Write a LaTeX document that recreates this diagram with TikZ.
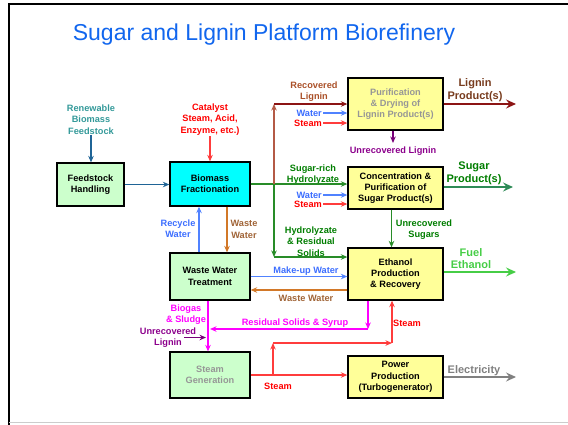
\documentclass[tikz,border=0pt]{standalone}
\usepackage{fontspec}
\setmainfont{Liberation Sans}
\usetikzlibrary{arrows.meta}
\definecolor{titleblue}{RGB}{17,102,238}
\definecolor{tealtxt}{RGB}{51,153,153}
\definecolor{feedline}{RGB}{31,100,150}
\definecolor{redtxt}{RGB}{255,0,0}
\definecolor{redline}{RGB}{255,60,60}
\definecolor{bluetxt}{RGB}{60,110,255}
\definecolor{blueline}{RGB}{80,130,255}
\definecolor{browntxt}{RGB}{160,100,55}
\definecolor{orangeline}{RGB}{210,120,40}
\definecolor{rlignintxt}{RGB}{170,80,40}
\definecolor{rligninline}{RGB}{180,90,70}
\definecolor{lprodtxt}{RGB}{120,60,30}
\definecolor{darkredline}{RGB}{140,20,20}
\definecolor{greentxt}{RGB}{0,125,0}
\definecolor{greenline}{RGB}{40,140,40}
\definecolor{sugarline}{RGB}{46,139,87}
\definecolor{fuelgreen}{RGB}{70,205,70}
\definecolor{purpletxt}{RGB}{140,0,140}
\definecolor{purpleline}{RGB}{120,0,120}
\definecolor{magentac}{RGB}{255,0,255}
\definecolor{greytxt}{RGB}{128,128,128}
\definecolor{nodegrey}{RGB}{150,150,150}
\definecolor{boxgreen}{RGB}{204,255,204}
\definecolor{boxyellow}{RGB}{255,255,153}
\definecolor{boxcyan}{RGB}{0,255,255}
\newcommand\lblfont{\fontsize{9.2}{11.3}\selectfont\bfseries}
\newcommand\bigfont{\fontsize{11}{12.8}\selectfont\bfseries}
\tikzset{
  procbox/.style={draw=black, line width=1.3pt, align=center, font=\lblfont, inner sep=0pt},
  lab/.style={align=center, font=\lblfont, inner sep=1pt},
  biglab/.style={align=center, font=\bigfont, inner sep=1pt},
  arr/.style={line width=1.1pt, -{Stealth[length=6.5pt,width=5.5pt]}},
  plainline/.style={line width=1.1pt},
  outarr/.style={line width=1.1pt, -{Stealth[length=10pt,width=9pt,inset=3.5pt]}}
}
\begin{document}
\begin{tikzpicture}[x=1pt,y=-1pt]
\useasboundingbox (0,0) rectangle (568,424);
% frame
\draw[line width=2.6pt] (9,425) -- (9,4) -- (570,4);
\draw[line width=1.5pt, black!20] (9,422.5) -- (570,422.5);
% title
\node[font=\fontsize{23}{26}\selectfont, text=titleblue] (title) at (264,35) {Sugar and Lignin Platform Biorefinery};

% process boxes
\node[procbox, fill=boxgreen, minimum width=67pt, minimum height=43pt] (feed) at (90.5,184.5) {Feedstock\\Handling};
\node[procbox, fill=boxcyan, minimum width=80pt, minimum height=44pt] (frac) at (210,184) {Biomass\\Fractionation};
\node[procbox, fill=boxyellow, minimum width=95pt, minimum height=52pt, text=nodegrey] (lig) at (395.5,104) {Purification\\\& Drying of\\Lignin Product(s)};
\node[procbox, fill=boxyellow, minimum width=95pt, minimum height=42pt] (conc) at (395.5,188) {Concentration \&\\Purification of\\Sugar Product(s)};
\node[procbox, fill=boxyellow, minimum width=95pt, minimum height=52pt] (eth) at (395.5,274) {Ethanol\\Production\\\& Recovery};
\node[procbox, fill=boxyellow, minimum width=95pt, minimum height=42pt] (power) at (395.5,377) {Power\\Production\\(Turbogenerator)};
\node[procbox, fill=boxgreen, minimum width=80pt, minimum height=47pt] (wwt) at (210,276.5) {Waste Water\\Treatment};
\node[procbox, fill=boxgreen, minimum width=80pt, minimum height=46pt, text=nodegrey] (sg) at (210,375) {Steam\\Generation};

% labels
\node[lab, text=tealtxt] (renew) at (91,119.5) {Renewable\\Biomass\\Feedstock};
\node[lab, text=redtxt] (cat) at (210,119.5) {Catalyst\\Steam, Acid,\\Enzyme, etc.)};
\node[lab, text=bluetxt] (recyc) at (178,229) {Recycle\\Water};
\node[lab, text=browntxt] (wwlab) at (244,229.5) {Waste\\Water};
\node[lab, text=rlignintxt] (reclig) at (314,91.5) {Recovered\\Lignin};
\node[lab, text=bluetxt, anchor=east] (lw) at (323,113) {Water};
\node[lab, text=redtxt, anchor=east] (ls) at (323,123) {Steam};
\node[lab, text=purpletxt] (unlig) at (393,151) {Unrecovered Lignin};
\node[biglab, text=lprodtxt] (lprod) at (475,90.5) {Lignin\\Product(s)};
\node[lab, text=greentxt] (srich) at (313,174.5) {Sugar-rich\\Hydrolyzate};
\node[lab, text=bluetxt, anchor=east] (cw) at (323,195) {Water};
\node[lab, text=redtxt, anchor=east] (cs) at (323,204) {Steam};
\node[biglab, text=greentxt] (sprod) at (474,173.5) {Sugar\\Product(s)};
\node[lab, text=greentxt] (unsug) at (424,229.5) {Unrecovered\\Sugars};
\node[lab, text=greentxt] (hydro) at (311,241.5) {Hydrolyzate\\\& Residual\\Solids};
\node[lab, text=bluetxt] (mkup) at (306,271) {Make-up Water};
\node[lab, text=browntxt] (ww2lab) at (306,298) {Waste Water};
\node[biglab, text=fuelgreen] (fuel) at (471,258.5) {Fuel\\Ethanol};
\node[lab, text=magentac] (biogas) at (186,314.5) {Biogas\\\& Sludge};
\node[lab, text=magentac] (resid) at (295,323) {Residual Solids \& Syrup};
\node[lab, text=purpletxt] (unlig2) at (168,337.5) {Unrecovered\\Lignin};
\node[lab, text=redtxt] (steam2) at (407,323) {Steam};
\node[lab, text=redtxt] (steam1) at (278,386) {Steam};
\node[biglab, text=greytxt] (elec) at (474,370.5) {Electricity};

% coordinates
\coordinate (j1) at (274,184);
\coordinate (j2) at (274,257);
\coordinate (ltop) at (274,104);
\coordinate (lout) at (516,104);
\coordinate (sout) at (513,187);
\coordinate (fout) at (516,272);
\coordinate (eout) at (516,377);
\coordinate (unl) at (393,143);
\coordinate (r1) at (368,329);
\coordinate (r2) at (210,329);
\coordinate (ul1) at (184,337.5);
\coordinate (ul2) at (206,337.5);
\coordinate (s1) at (273,375);
\coordinate (s2) at (273,343);
\coordinate (s3) at (392,343);

% connectors
\draw[arr, feedline] (renew.south) -- (renew.south |- feed.north);
\draw[arr, feedline] (feed.east) -- (feed.east -| frac.west);
\draw[arr, redline] (cat.south) -- (frac.north);
\draw[arr, blueline] ([xshift=-11pt]wwt.north) -- ([xshift=-11pt]frac.south);
\draw[arr, orangeline] ([xshift=17pt]frac.south) -- ([xshift=17pt]wwt.north);
% green from fractionation
\draw[arr, greenline] (frac.east) -- (conc.west |- frac.east);
\draw[arr, rligninline] (j1) -- (ltop);
\draw[arr, darkredline] (ltop) -- (lig.west |- ltop);
\draw[arr, greenline] (j1) -- (j2);
\draw[arr, greenline] (j2) -- (eth.west |- j2);
% water / steam into lignin and sugar boxes
\draw[arr, blueline] (lw.east) -- (lig.west |- lw.east);
\draw[arr, redline] (ls.east) -- (lig.west |- ls.east);
\draw[arr, blueline] (cw.east) -- (conc.west |- cw.east);
\draw[arr, redline] (cs.east) -- (conc.west |- cs.east);
% lignin outputs
\draw[arr, purpleline] (lig.south -| unl) -- (unl);
\draw[outarr, darkredline] (lig.east) -- (lout);
% sugar
\draw[outarr, sugarline] (conc.east |- sout) -- (sout);
\draw[arr, greenline] ([xshift=-4pt]conc.south) -- ([xshift=-4pt]eth.north);
% water exchange
\draw[arr, blueline] (wwt.east) -- (eth.west |- wwt.east);
\draw[arr, orangeline] (eth.west |- 0,290) -- (wwt.east |- 0,290);
% ethanol output
\draw[outarr, fuelgreen] (eth.east |- fout) -- (fout);
% magenta
\draw[arr, magentac] ([xshift=-2pt]wwt.south) -- ([xshift=-2pt]sg.north);
\draw[arr, magentac] (eth.south -| r1) -- (r1);
\draw[arr, magentac] (r1) -- (r2);
\draw[arr, purpleline] (ul1) -- (ul2);
% steam
\draw[arr, redline] (sg.east) -- (power.west |- sg.east);
\draw[arr, redline] (s1) -- (s2);
\draw[arr, redline] (s2) -- (s3);
\draw[arr, redline] (s3) -- (eth.south -| s3);
% electricity
\draw[outarr, greytxt] (power.east) -- (eout);
\end{tikzpicture}
\end{document}
